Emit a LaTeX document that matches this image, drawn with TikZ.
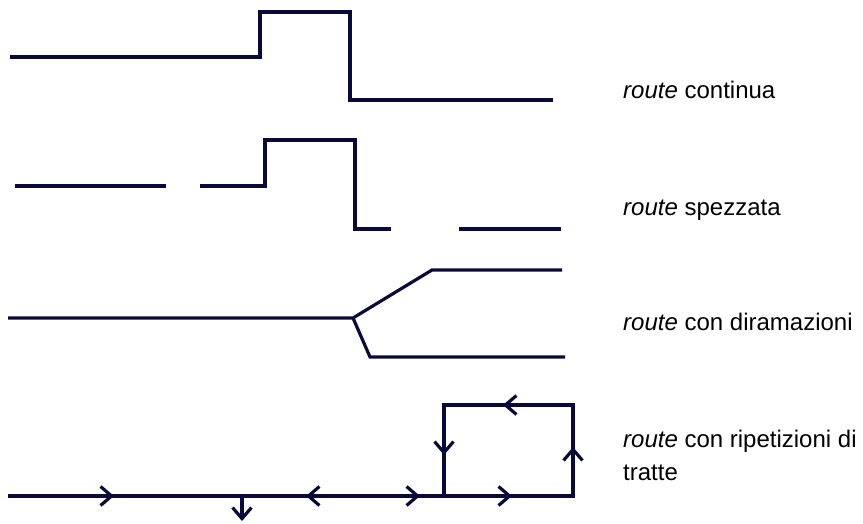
\documentclass[tikz,border=0pt]{standalone}
\usepackage{fontspec}
\setmainfont{Liberation Sans}
\usepackage{tikz}
\usetikzlibrary{arrows.meta}
\usetikzlibrary{scopes}
\definecolor{routeblue}{RGB}{10,10,58}

\begin{document}
\begin{tikzpicture}
      [
      x=1pt, y=-1pt,
      route/.style={draw=routeblue, line width=3.2pt},
      tip/.style={route, -{Straight Barb[length=11pt,width=19pt]}},
      label/.style={anchor=base west, inner sep=0pt, font=\fontsize{24}{33}\selectfont},
      ]
      \useasboundingbox (0,0) rectangle (863,524);
      \def\tx{623} % left edge of the labels
      % continuous route
      \draw[route] (10,57) -- (260,57) -- (260,12) -- (350,12) -- (350,100) -- (553,100);
      \node[label] (cont) at (\tx,99) {\textit{route} continua};
      % broken route
      {[route]
        \draw (15,186) -- (166,186);
        \draw (200,186) -- (265,186) -- (265,140) -- (355,140) -- (355,229) -- (391,229);
        \draw (459,229) -- (561,229);
      }
      \node[label] (brk) at (\tx,215) {\textit{route} spezzata};
      % branching route
      \coordinate (fork) at (353,318);
      \draw[route] (8,318) -- (fork) -- (432,270) -- (562,270);
      \draw[route] (fork) -- (370,357) -- (565,357);
      \node[label] (branch) at (\tx,330) {\textit{route} con diramazioni};
      % route with repeated stretches
      \coordinate (loopA) at (444,496);
      \coordinate (loopB) at (573,496);
      \draw[route] (8,496) -- (loopB) -- (573,405) -- (444,405) -- (loopA);
      \draw[route] (242,496) -- (242,511);
      {[tip]
        \draw (103,496) -- (114,496);
        \draw (242,509) -- (242,521);
        \draw (318,496) -- (306,496);
        \draw (408,496) -- (420,496);
        \draw (500,496) -- (512,496);
        \draw (573,460) -- (573,447);
        \draw (515,405) -- (503,405);
        \draw (444,443) -- (444,455);
      }
      \node[label] (rep) at (\tx,447) {\textit{route} con ripetizioni di};
      \node[label] (rep2) at (\tx,480) {tratte};
\end{tikzpicture}
\end{document}
